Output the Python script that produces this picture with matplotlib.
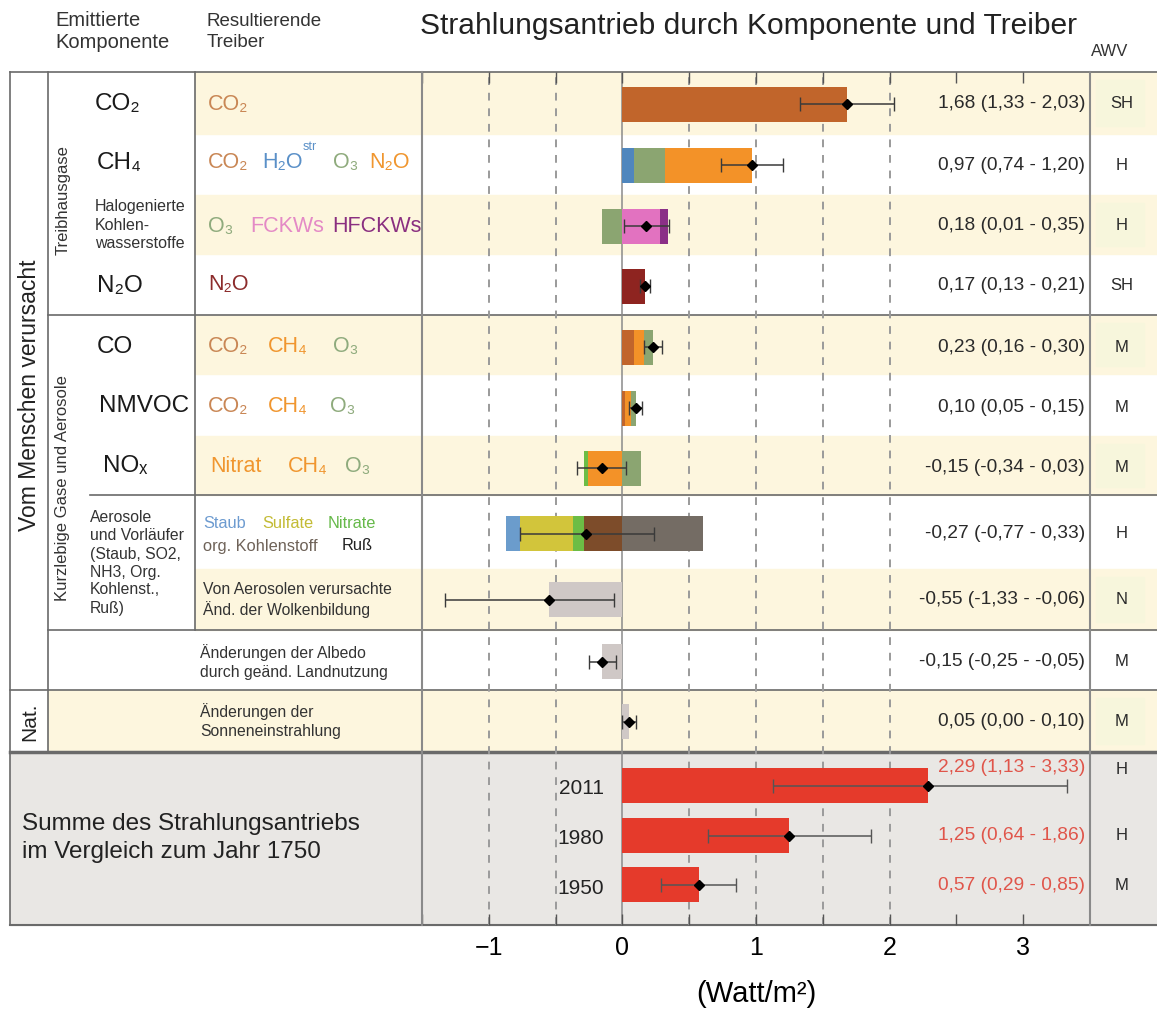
import numpy as np
import matplotlib
matplotlib.use('Agg')
import matplotlib.pyplot as plt
from matplotlib.patches import Rectangle

plt.rcParams['font.family'] = ['Liberation Sans', 'DejaVu Sans']

# --- Daten -------------------------------------------------------------
# Beiträge je Zeile (gestapelt ab 0, negative nach links)
c_co2, c_h2o, c_o3, c_ch4 = '#c1652b', '#4f86bd', '#8ba571', '#f39228'
c_fckw, c_hfckw, c_n2o = '#e272c0', '#8b2f87', '#8e2420'
c_staub, c_sulf, c_nitr, c_orgc, c_russ = '#6b9ccc', '#d2c53b', '#6cbd45', '#7d4c2a', '#746c64'
c_grau = '#cfc8c6'

pos_vals = [[1.68], [0.09, 0.23, 0.65], [0.28, 0.06], [0.17], [0.09, 0.07, 0.07],
            [0.02, 0.045, 0.035], [0.14], [0.60], [], [], [0.05]]
pos_cols = [[c_co2], [c_h2o, c_o3, c_ch4], [c_fckw, c_hfckw], [c_n2o], [c_co2, c_ch4, c_o3],
            [c_co2, c_ch4, c_o3], [c_o3], [c_russ], [], [], [c_grau]]
neg_vals = [[], [], [-0.15], [], [], [], [-0.26, -0.03],
            [-0.29, -0.08, -0.40, -0.10], [-0.55], [-0.15], []]
neg_cols = [[], [], [c_o3], [], [], [], [c_ch4, c_nitr],
            [c_orgc, c_nitr, c_sulf, c_staub], [c_grau], [c_grau], []]

best = [1.68, 0.97, 0.18, 0.17, 0.23, 0.10, -0.15, -0.27, -0.55, -0.15, 0.05]
low = [1.33, 0.74, 0.01, 0.13, 0.16, 0.05, -0.34, -0.77, -1.33, -0.25, 0.00]
high = [2.03, 1.20, 0.35, 0.21, 0.30, 0.15, 0.03, 0.24, -0.06, -0.05, 0.10]
labels = ['1,68 (1,33 - 2,03)', '0,97 (0,74 - 1,20)', '0,18 (0,01 - 0,35)', '0,17 (0,13 - 0,21)',
          '0,23 (0,16 - 0,30)', '0,10 (0,05 - 0,15)', '-0,15 (-0,34 - 0,03)',
          '-0,27 (-0,77 - 0,33)', '-0,55 (-1,33 - -0,06)', '-0,15 (-0,25 - -0,05)',
          '0,05 (0,00 - 0,10)']
awv = ['SH', 'H', 'H', 'SH', 'M', 'M', 'M', 'H', 'N', 'M', 'M']

jahre = ['2011', '1980', '1950']
summe = [2.29, 1.25, 0.57]
summe_low = [1.13, 0.64, 0.29]
summe_high = [3.33, 1.86, 0.85]
summe_labels = ['2,29 (1,13 - 3,33)', '1,25 (0,64 - 1,86)', '0,57 (0,29 - 0,85)']
summe_awv = ['H', 'H', 'M']

# --- Layout (Pixel) ----------------------------------------------------
W, H = 1157, 1011
row_top = [72, 134, 195, 254, 315, 374, 436, 495, 569, 630, 690]
row_bot = row_top[1:] + [752]
row_y = [104, 165, 226, 286, 347, 408, 468, 534, 600, 662, 722]
sum_y = [786, 836, 885]
gelb, grau_bg = '#fdf6de', '#e9e7e4'
lc = '#6a6a6a'

fig = plt.figure(figsize=(W / 100, H / 100), dpi=100)
bg = fig.add_axes([0, 0, 1, 1])
bg.set_xlim(0, W)
bg.set_ylim(H, 0)
bg.axis('off')

# Zeilenhintergrund
for i, (t, b) in enumerate(zip(row_top, row_bot)):
    if i % 2 == 0:
        x0 = 48 if i == 10 else 195
        bg.add_patch(Rectangle((x0, t), W - x0, b - t, color=gelb, zorder=0))
        bg.add_patch(Rectangle((1096, t + 8), 48, b - t - 16, color='#f7f6dc', zorder=0.5))
bg.add_patch(Rectangle((10, 752), W - 10, 925 - 752, color=grau_bg, zorder=0))

# Tabellenlinien
for y, x0, lw in [(72, 10, 1.2), (315, 48, 1.2), (495, 90, 1.2), (630, 48, 1.2),
                  (690, 10, 1.2), (752, 10, 2.5), (925, 10, 1.5)]:
    bg.plot([x0, W], [y, y], color=lc, lw=lw, zorder=1)
for x, y0, y1 in [(10, 72, 925), (48, 72, 752), (195, 72, 630)]:
    bg.plot([x, x], [y0, y1], color=lc, lw=1.2, zorder=1)

# Kopfzeile
bg.text(55, 32, 'Emittierte\nKomponente', fontsize=14.5, color='#333', va='center', linespacing=1.2)
bg.text(207, 32, 'Resultierende\nTreiber', fontsize=13.5, color='#333', va='center', linespacing=1.25)
bg.text(420, 26, 'Strahlungsantrieb durch Komponente und Treiber', fontsize=21.6, color='#222', va='center')
bg.text(1110, 52, 'AWV', fontsize=12, color='#333', ha='center', va='center')

# linke Spalten
bg.text(30, 395, 'Vom Menschen verursacht', rotation=90, fontsize=16.5, ha='center', va='center', color='#222')
bg.text(30, 722, 'Nat.', rotation=90, fontsize=15, ha='center', va='center', color='#222')
bg.text(63, 200, 'Treibhausgase', rotation=90, fontsize=12, ha='center', va='center', color='#333')
bg.text(63, 488, 'Kurzlebige Gase und Aerosole', rotation=90, fontsize=12, ha='center', va='center', color='#333')

komp = [('CO₂', 95, 104), ('CH₄', 97, 163), ('N₂O', 97, 286), ('CO', 97, 347),
        ('NMVOC', 99, 406), ('NOₓ', 103, 466)]
for s, x, y in komp:
    bg.text(x, y, s, fontsize=17.5, va='center', color='#1a1a1a')
bg.text(95, 225, 'Halogenierte\nKohlen-\nwasserstoffe', fontsize=11.5, va='center', color='#333', linespacing=1.3)
bg.text(90, 563, 'Aerosole\nund Vorläufer\n(Staub, SO2,\nNH3, Org.\nKohlenst.,\nRuß)', fontsize=11.3,
        va='center', color='#333', linespacing=1.25)

# Treiber (farbige Textstücke)
t_co2, t_h2o, t_o3, t_or = '#c98755', '#5a90c8', '#8fab7d', '#f0962f'
treiber = [
    [('CO₂', t_co2, 208, 104)],
    [('CO₂', t_co2, 208, 163), ('H₂O', t_h2o, 262, 163), ('O₃', t_o3, 333, 163), ('N₂O', t_or, 369, 163)],
    [('O₃', t_o3, 208, 226), ('FCKWs', '#e48ac6', 250, 226), ('HFCKWs', '#8a2f80', 332, 226)],
    [('N₂O', '#8c2c2c', 208, 285)],
    [('CO₂', t_co2, 208, 347), ('CH₄', t_or, 268, 347), ('O₃', t_o3, 333, 347)],
    [('CO₂', t_co2, 208, 407), ('CH₄', t_or, 268, 407), ('O₃', t_o3, 330, 407)],
    [('Nitrat', t_or, 210, 467), ('CH₄', t_or, 288, 467), ('O₃', t_o3, 345, 467)],
]
for row in treiber:
    for s, c, x, y in row:
        bg.text(x, y, s, fontsize=15.5, color=c, va='center')
bg.text(303, 147, 'str', fontsize=9, color=t_h2o, va='center')

for s, c, x, y in [('Staub', '#6d9bd0', 203, 524), ('Sulfate', '#c3bb35', 262, 524),
                   ('Nitrate', '#66b94a', 328, 524), ('org. Kohlenstoff', '#6e6258', 203, 546),
                   ('Ruß', '#222', 342, 546)]:
    bg.text(x, y, s, fontsize=11.8, color=c, va='center')
bg.text(203, 600, 'Von Aerosolen verursachte\nÄnd. der Wolkenbildung', fontsize=11.3, va='center',
        color='#333', linespacing=1.35)
bg.text(200, 662, 'Änderungen der Albedo\ndurch geänd. Landnutzung', fontsize=11.3, va='center',
        color='#333', linespacing=1.35)
bg.text(200, 721, 'Änderungen der\nSonneneinstrahlung', fontsize=11.3, va='center',
        color='#333', linespacing=1.35)

# Zahlenwerte und AWV
for y, s, a in zip(row_y, labels, awv):
    bg.text(1085, y, s, fontsize=13.8, ha='right', va='center', color='#2a2a2a')
    bg.text(1122, y, a, fontsize=12, ha='center', va='center', color='#2a2a2a')
for y, s, a, j in zip(sum_y, summe_labels, summe_awv, jahre):
    bg.text(1085, y - 18 if j == '2011' else y, s, fontsize=13.8, ha='right', va='center', color='#e0554a')
    bg.text(1122, y - 16 if j == '2011' else y, a, fontsize=12, ha='center', va='center', color='#2a2a2a')
    bg.text(604, y + 3, j, fontsize=15, ha='right', va='center', color='#222')
bg.text(22, 838, 'Summe des Strahlungsantriebs\nim Vergleich zum Jahr 1750', fontsize=17.5,
        va='center', color='#222', linespacing=1.4)

# --- Diagramm ----------------------------------------------------------
ax = fig.add_axes([422 / W, (H - 925) / H, (1090 - 422) / W, (925 - 72) / H])
ax.set_xlim(-1.48, 3.5)
ax.set_ylim(925, 72)
ax.patch.set_alpha(0)

for v in [-1, -0.5, 0.5, 1, 1.5, 2]:
    ax.axvline(v, color='#9a9a9a', lw=1.4, ls=(0, (4, 4)), zorder=1)
ax.axvline(0, color='#8a8a8a', lw=1.1, zorder=1)

bh = 35
for y, pv, pc, nv, nc in zip(row_y, pos_vals, pos_cols, neg_vals, neg_cols):
    left = 0
    for v, c in zip(pv, pc):
        ax.barh(y, v, left=left, height=bh, color=c, zorder=2)
        left += v
    left = 0
    for v, c in zip(nv, nc):
        ax.barh(y, v, left=left, height=bh, color=c, zorder=2)
        left += v

best_a, low_a, high_a = np.array(best), np.array(low), np.array(high)
ax.errorbar(best_a, row_y, xerr=[best_a - low_a, high_a - best_a], fmt='D', color='black',
            ecolor='#3a3a3a', elinewidth=1.1, capsize=5, markersize=5.5, zorder=4)

ax.barh(sum_y, summe, height=bh, color='#e53a2b', zorder=2)
s_a, sl_a, sh_a = np.array(summe), np.array(summe_low), np.array(summe_high)
ax.errorbar(s_a, sum_y, xerr=[s_a - sl_a, sh_a - s_a], fmt='D', color='black',
            ecolor='#555555', elinewidth=1.1, capsize=5, markersize=5.5, zorder=4)

ax.set_xticks([-1, 0, 1, 2, 3])
ax.set_xticks(np.arange(-1.5, 3.01, 0.5), minor=True)
ax.tick_params(axis='x', which='both', direction='in', top=True, length=8, width=1, color='#555',
               labelsize=18, pad=8)
ax.tick_params(axis='y', left=False, labelleft=False)
ax.set_xlabel('(Watt/m²)', fontsize=21, labelpad=14)
for side in ['top', 'bottom']:
    ax.spines[side].set_visible(False)
for side in ['left', 'right']:
    ax.spines[side].set_color('#8a8a8a')
    ax.spines[side].set_linewidth(1.5)

fig.savefig('out.png', dpi=100)
